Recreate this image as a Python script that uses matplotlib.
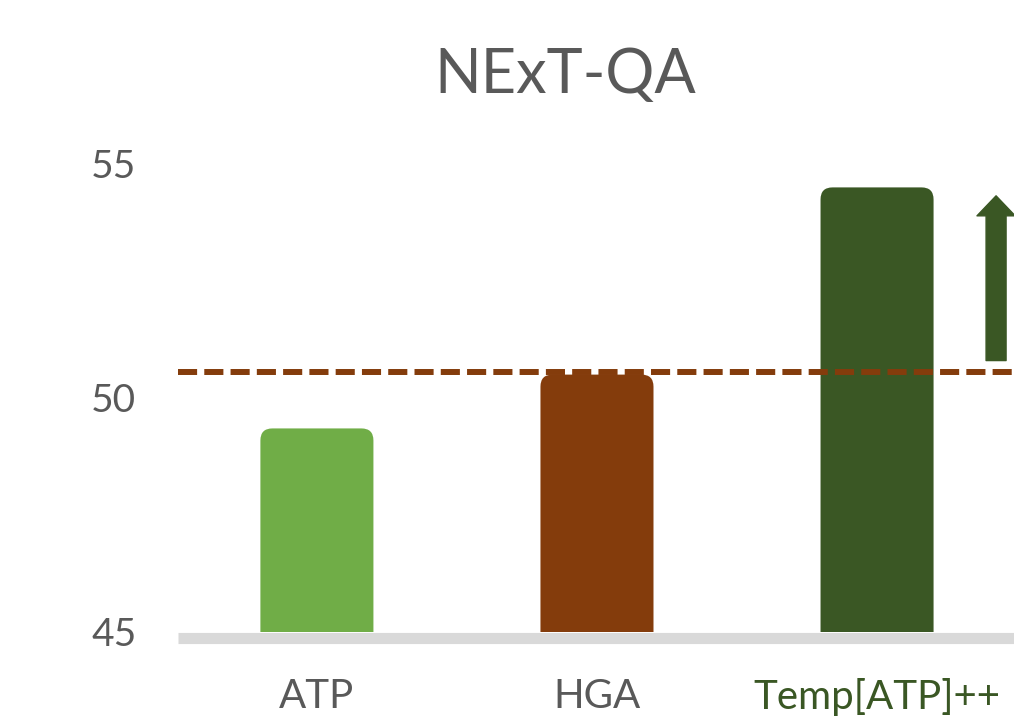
import matplotlib.pyplot as plt
from matplotlib.patches import FancyBboxPatch, FancyArrowPatch, ArrowStyle

plt.rcParams['font.family'] = ['Lato', 'DejaVu Sans']

# data
methods = ['ATP', 'HGA', 'Temp[ATP]++']
scores = [49.35, 50.5, 54.5]
bar_colors = ['#70AD47', '#843C0C', '#3A5724']
baseline = 50.56          # dashed reference line (HGA level)
arrow_from, arrow_to = 50.8, 54.32
yticks = [45, 50, 55]

fig = plt.figure(figsize=(10.14, 7.17), dpi=100)
ax = fig.add_axes([178 / 1014, 1 - 632 / 717, 836 / 1014, (632 - 164) / 717])
ax.set_xlim(-0.496, 2.489)
ax.set_ylim(45, 55)

# bars with rounded tops
px_x = 280.0   # px per x unit
px_y = 46.8    # px per y unit
w = 113 / px_x
r = 12 / px_x
for i, (v, c) in enumerate(zip(scores, bar_colors)):
    p = FancyBboxPatch((i - w / 2, 44.0), w, v - 44.0,
                       boxstyle=f"round,pad=0,rounding_size={r}",
                       mutation_aspect=px_x / px_y,
                       fc=c, ec='none', zorder=2)
    ax.add_patch(p)

ax.axhline(baseline, color='#843C0C', lw=4.3, dashes=(3.2, 1.2), zorder=3,
           clip_on=False)

arr = FancyArrowPatch((2.425, arrow_from), (2.425, arrow_to),
                      arrowstyle=ArrowStyle.Simple(head_length=14.4, head_width=27.5,
                                                    tail_width=14.4),
                      mutation_scale=1, shrinkA=0, shrinkB=0,
                      color='#3A5724', zorder=3, clip_on=False)
ax.add_patch(arr)

for s in ['top', 'right', 'left']:
    ax.spines[s].set_visible(False)
ax.spines['bottom'].set_color('#D9D9D9')
ax.spines['bottom'].set_linewidth(8)
ax.spines['bottom'].set_capstyle('butt')
ax.spines['bottom'].set_position(('outward', 4))
ax.spines['bottom'].set_zorder(1)

ax.set_yticks(yticks)
ax.set_yticklabels([str(t) for t in yticks])
ax.tick_params(axis='y', length=0, pad=30, labelsize=28, labelcolor='#595959')
ax.set_xticks(range(len(methods)))
ax.set_xticklabels(methods)
ax.tick_params(axis='x', length=0, pad=29, labelsize=29, labelcolor='#595959')
ax.get_xticklabels()[2].set_color('#3A5724')

fig.text(565 / 1014, 1 - 75 / 717, 'NExT-QA', ha='center', va='center',
         fontsize=44, color='#595959')

fig.savefig('out.png', dpi=100, facecolor='white')
